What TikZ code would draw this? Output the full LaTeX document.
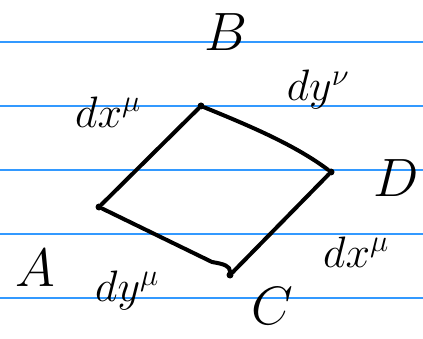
\RequirePackage{fix-cm}
\documentclass[tikz,border=0pt]{standalone}
\definecolor{rule}{RGB}{51,153,255}
\begin{document}
\begin{tikzpicture}[x=1pt,y=-1pt,
  ruling/.style={draw=rule,line width=1.3pt},
  edge/.style={draw=black,line width=4pt,line cap=round,line join=round},
  vtx/.style={circle,fill=black,inner sep=0pt,minimum size=7pt},
  big/.style={font=\fontsize{54}{60}\selectfont},
  lab/.style={font=\fontsize{44}{50}\selectfont}]
\useasboundingbox (0,0) rectangle (423,339);
\foreach \yy in {42,106,170,234,298} \draw[ruling] (0,\yy) -- (423,\yy);
\node[vtx] (B) at (201,106) {};
\node[vtx] (D) at (331,172) {};
\node[vtx] (C) at (230,275) {};
\node[vtx] (A) at (99,207) {};
\coordinate (Ch) at (212,262);
\draw[edge] (B) -- (A);
\draw[edge] (B) .. controls (250,126) and (295,145) .. (D);
\draw[edge] (D) -- (C);
\draw[edge] (C) .. controls (230,266) and (224,264) .. (Ch) -- (A);
\node[big] (lB) at (226,32) {$B$};
\node[big] (lD) at (396,178) {$D$};
\node[big] (lA) at (35,268) {$A$};
\node[big] (lC) at (272,306) {$C$};
\node[lab] (l1) at (108,112) {$dx^\mu$};
\node[lab] (l2) at (318,90) {$dy^\nu$};
\node[lab] (l3) at (356,252) {$dx^\mu$};
\node[lab] (l4) at (127,290) {$dy^\mu$};
\end{tikzpicture}
\end{document}
